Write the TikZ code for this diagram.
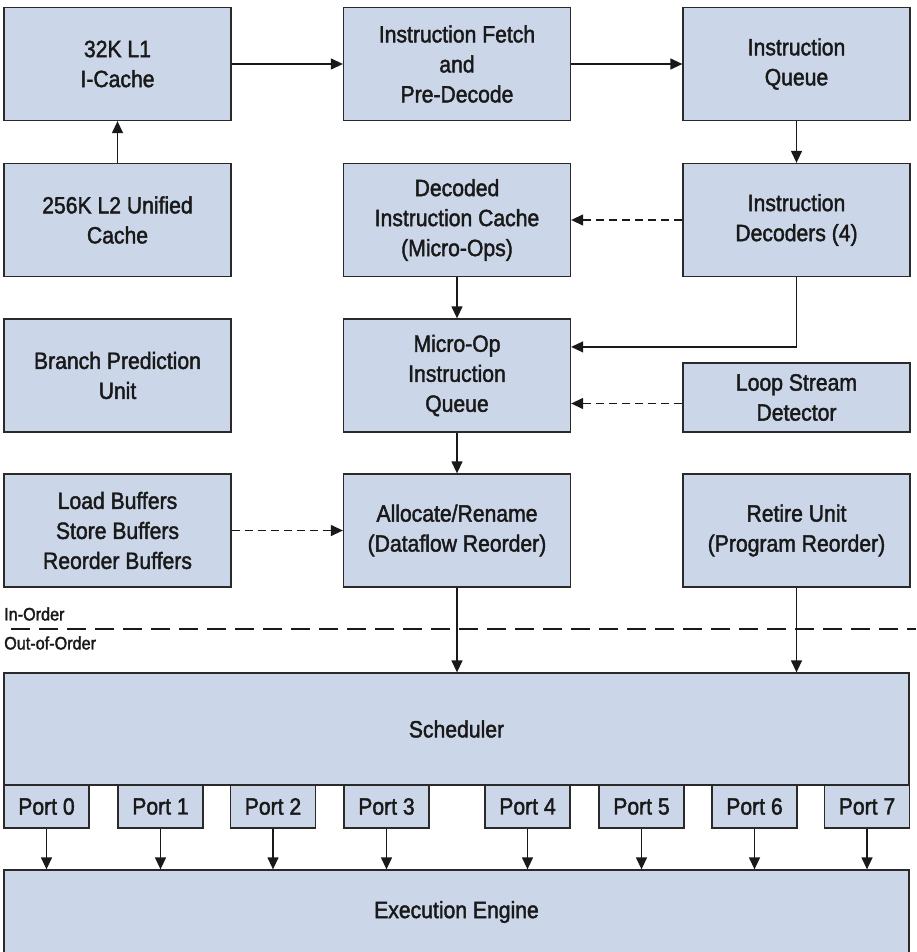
\documentclass[tikz,border=0pt]{standalone}
\usepackage{fontspec}
\setmainfont{Liberation Sans}[FakeStretch=0.9,FakeBold=1.8]
\usetikzlibrary{arrows.meta,calc}
\definecolor{boxfill}{HTML}{CBD6E9}
\definecolor{boxline}{HTML}{2A2A2A}
\begin{document}
\begin{tikzpicture}[x=1pt,y=-1pt,
  blk/.style={draw=boxline,fill=boxfill,line width=1.3pt,rectangle,inner sep=0pt,
    align=center,font=\fontsize{23.5}{30}\selectfont,text=black!90},
  colw/.style={minimum width=227pt},
  rowh/.style={minimum height=113pt},
  portbox/.style={blk,minimum width=85pt,minimum height=43pt},
  conn/.style={line width=1.3pt,draw=black!90,-{Triangle[width=11pt,length=12pt]}},
  dconn/.style={conn,dash pattern=on 8pt off 5pt},
  lbl/.style={font=\fontsize{18}{22}\selectfont,inner sep=0pt,anchor=west,text=black!90}]
\useasboundingbox (0,0) rectangle (916,952);
% row 1
\node[blk,colw,rowh] (l1) at (117.5,64) {32K L1\\I-Cache};
\node[blk,colw,rowh] (fetch) at (457,64) {Instruction Fetch\\and\\Pre-Decode};
\node[blk,colw,rowh] (iq) at (796.5,64) {Instruction\\Queue};
% row 2
\node[blk,colw,rowh] (l2) at (117.5,220) {256K L2 Unified\\Cache};
\node[blk,colw,rowh] (dcache) at (457,220) {Decoded\\Instruction Cache\\(Micro-Ops)};
\node[blk,colw,rowh] (dec) at (796.5,220) {Instruction\\Decoders (4)};
% row 3
\node[blk,colw,rowh] (bpu) at (117.5,375.5) {Branch Prediction\\Unit};
\node[blk,colw,rowh] (muq) at (457,375.5) {Micro-Op\\Instruction\\Queue};
\node[blk,colw,minimum height=69pt] (lsd) at (796.5,397.5) {Loop Stream\\Detector};
% row 4
\node[blk,colw,rowh] (buf) at (117.5,530.5) {Load Buffers\\Store Buffers\\Reorder Buffers};
\node[blk,colw,rowh] (alloc) at (457,530.5) {Allocate/Rename\\(Dataflow Reorder)};
\node[blk,colw,rowh] (ret) at (796.5,530.5) {Retire Unit\\(Program Reorder)};
% in-order / out-of-order
\node[lbl] (ino) at (4,614) {In-Order};
\node[lbl] (ooo) at (4,643) {Out-of-Order};
\coordinate (dl) at (11,629);
\coordinate (dr) at (916,629);
\draw[line width=2.5pt,draw=black!90,dash pattern=on 19pt off 9pt] (dl) -- (dr);
% scheduler
\node[blk,minimum width=905pt,minimum height=112pt] (sch) at (456.5,729) {Scheduler};
\node[portbox] (p0) at (46.5,806.5) {Port 0};
\node[portbox] (p1) at (160.5,806.5) {Port 1};
\node[portbox] (p2) at (273,806.5) {Port 2};
\node[portbox] (p3) at (386.5,806.5) {Port 3};
\node[portbox] (p4) at (527.5,806.5) {Port 4};
\node[portbox] (p5) at (641.5,806.5) {Port 5};
\node[portbox] (p6) at (754.5,806.5) {Port 6};
\node[portbox] (p7) at (867,806.5) {Port 7};
\node[blk,minimum width=905pt,minimum height=84pt] (exe) at (456.5,912) {Execution Engine};
% connectors
\draw[conn] (l1.east) -- (fetch.west);
\draw[conn] (fetch.east) -- (iq.west);
\draw[conn] (l2.north) -- (l1.south);
\draw[conn] (iq.south) -- (dec.north);
\draw[dconn] (dec.west) -- (dcache.east);
\draw[conn] (dcache.south) -- (muq.north);
\draw[conn] (dec.south) |- ($(muq.north east)!0.25!(muq.south east)$);
\draw[dconn] ([yshift=-6pt]lsd.west) -- ([yshift=-6pt]lsd.west -| muq.east);
\draw[conn] (muq.south) -- (alloc.north);
\draw[dconn] (buf.east) -- (alloc.west);
\draw[conn] (alloc.south) -- (alloc.south |- sch.north);
\draw[conn] (ret.south) -- (ret.south |- sch.north);
\foreach \p in {p0,p1,p2,p3,p4,p5,p6,p7}{
  \draw[conn] (\p.south) -- (\p.south |- exe.north);
}
\end{tikzpicture}
\end{document}
